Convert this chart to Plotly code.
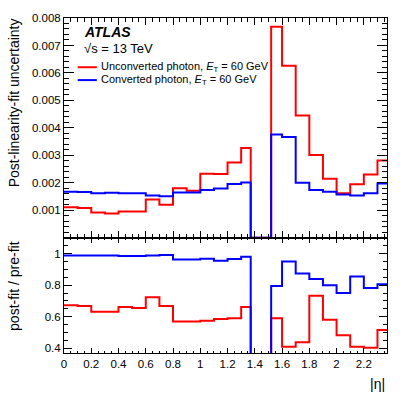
import plotly.graph_objects as go
from plotly.subplots import make_subplots

# bin edges in |eta| (crack 1.37-1.52 has no entries)
edges = [0, 0.1, 0.2, 0.3, 0.4, 0.5, 0.6, 0.7, 0.8, 0.9, 1.0, 1.1, 1.2, 1.3, 1.37,
         1.52, 1.6, 1.7, 1.8, 1.9, 2.0, 2.1, 2.2, 2.3, 2.37]

# post-linearity-fit uncertainty
unc_unconv = [0.00111, 0.00108, 0.00092, 0.00088, 0.00096, 0.00096, 0.00139, 0.00120,
              0.00180, 0.00171, 0.00233, 0.00232, 0.00274, 0.00327, 0.0,
              0.00768, 0.00626, 0.00445, 0.00301, 0.00215, 0.00162, 0.00195, 0.00230, 0.00281]
unc_conv = [0.00168, 0.00167, 0.00162, 0.00164, 0.00162, 0.00162, 0.00154, 0.00151,
            0.00165, 0.00165, 0.00174, 0.00179, 0.00196, 0.00201, 0.0,
            0.00376, 0.00367, 0.00200, 0.00174, 0.00168, 0.00158, 0.00154, 0.00162, 0.00198]

# post-fit / pre-fit ratio
ratio_unconv = [0.672, 0.668, 0.631, 0.631, 0.662, 0.655, 0.723, 0.668,
                0.569, 0.569, 0.574, 0.586, 0.590, 0.662, 0.0,
                0.590, 0.409, 0.438, 0.732, 0.580, 0.483, 0.409, 0.403, 0.516]
ratio_conv = [0.988, 0.988, 0.987, 0.987, 0.985, 0.985, 0.987, 0.990,
              0.963, 0.963, 0.967, 0.955, 0.965, 0.980, 0.0,
              0.795, 0.949, 0.873, 0.838, 0.799, 0.750, 0.855, 0.781, 0.806]

RED = "#ff0000"
BLUE = "#0000ff"
FONT = "Liberation Sans, Arial, sans-serif"

fig = make_subplots(rows=2, cols=1, shared_xaxes=True, vertical_spacing=0,
                    row_heights=[0.656, 0.344])


def step(vals):
    return vals + [vals[-1]]


for vals, col, row in [(unc_unconv, RED, 1), (unc_conv, BLUE, 1),
                       (ratio_unconv, RED, 2), (ratio_conv, BLUE, 2)]:
    fig.add_trace(go.Scatter(x=edges, y=step(vals), mode="lines", line_shape="hv",
                             line=dict(color=col, width=2), showlegend=False),
                  row=row, col=1)

axis_common = dict(showline=True, linecolor="black", linewidth=1, mirror="ticks",
                   ticks="inside", tickcolor="black", showgrid=False, zeroline=False,
                   tickfont=dict(family=FONT, size=11.5, color="black"))

fig.update_xaxes(range=[0, 2.37], tick0=0, dtick=0.2, **axis_common)
fig.update_xaxes(showticklabels=False, ticklen=7,
                 minor=dict(dtick=0.05, ticklen=3.5, ticks="inside", tickcolor="black"),
                 row=1, col=1)
fig.update_xaxes(ticklen=5,
                 minor=dict(dtick=0.05, ticklen=2.5, ticks="inside", tickcolor="black"),
                 row=2, col=1)

fig.update_yaxes(**axis_common)
fig.update_yaxes(range=[0.000001, 0.008], tick0=0, dtick=0.001, ticklen=10,
                 minor=dict(dtick=0.0002, ticklen=5, ticks="inside", tickcolor="black"),
                 row=1, col=1)
fig.update_yaxes(range=[0.37, 1.1], tick0=0.4, dtick=0.2, ticklen=8,
                 minor=dict(dtick=0.05, ticklen=4, ticks="inside", tickcolor="black"),
                 row=2, col=1)

# labels and legend
txt = dict(family=FONT, color="black")
annots = [
    dict(text="<b><i>ATLAS</i></b>", x=0.055, y=0.935, font=dict(size=14, **txt)),
    dict(text="√s = 13 TeV", x=0.055, y=0.861, font=dict(size=13, **txt)),
    dict(text="Unconverted photon, <i>E</i><sub>T</sub> = 60 GeV", x=0.108, y=0.776,
         font=dict(size=11, **txt)),
    dict(text="Converted photon, <i>E</i><sub>T</sub> = 60 GeV", x=0.108, y=0.7175,
         font=dict(size=11, **txt)),
]
for a in annots:
    fig.add_annotation(xref="x domain", yref="y domain", xanchor="left", yanchor="middle",
                       showarrow=False, **a)

for yy, col in [(0.776, RED), (0.7175, BLUE)]:
    fig.add_shape(type="line", xref="x domain", yref="y domain", x0=0.0425, x1=0.1017,
                  y0=yy, y1=yy, line=dict(color=col, width=2))

fig.add_annotation(text="Post-linearity-fit uncertainty", xref="paper", yref="paper",
                   x=-0.156, y=0.747, textangle=-90, showarrow=False,
                   xanchor="center", yanchor="middle", font=dict(size=14, **txt))
fig.add_annotation(text="post-fit / pre-fit", xref="paper", yref="paper",
                   x=-0.153, y=0.199, textangle=-90, showarrow=False,
                   xanchor="center", yanchor="middle", font=dict(size=14, **txt))
fig.add_annotation(text="|η|", xref="paper", yref="paper", x=1.0, y=-0.094,
                   xanchor="right", yanchor="middle", showarrow=False,
                   font=dict(size=14, **txt))

fig.update_layout(width=407, height=393, plot_bgcolor="white", paper_bgcolor="white",
                  margin=dict(l=64, r=20, t=13, b=40), showlegend=False)

# drop the browser's default page margin so the figure sits at the window corner
fig.write_html("out.html", config={"displayModeBar": False},
               post_script="document.body.style.margin='0';")
